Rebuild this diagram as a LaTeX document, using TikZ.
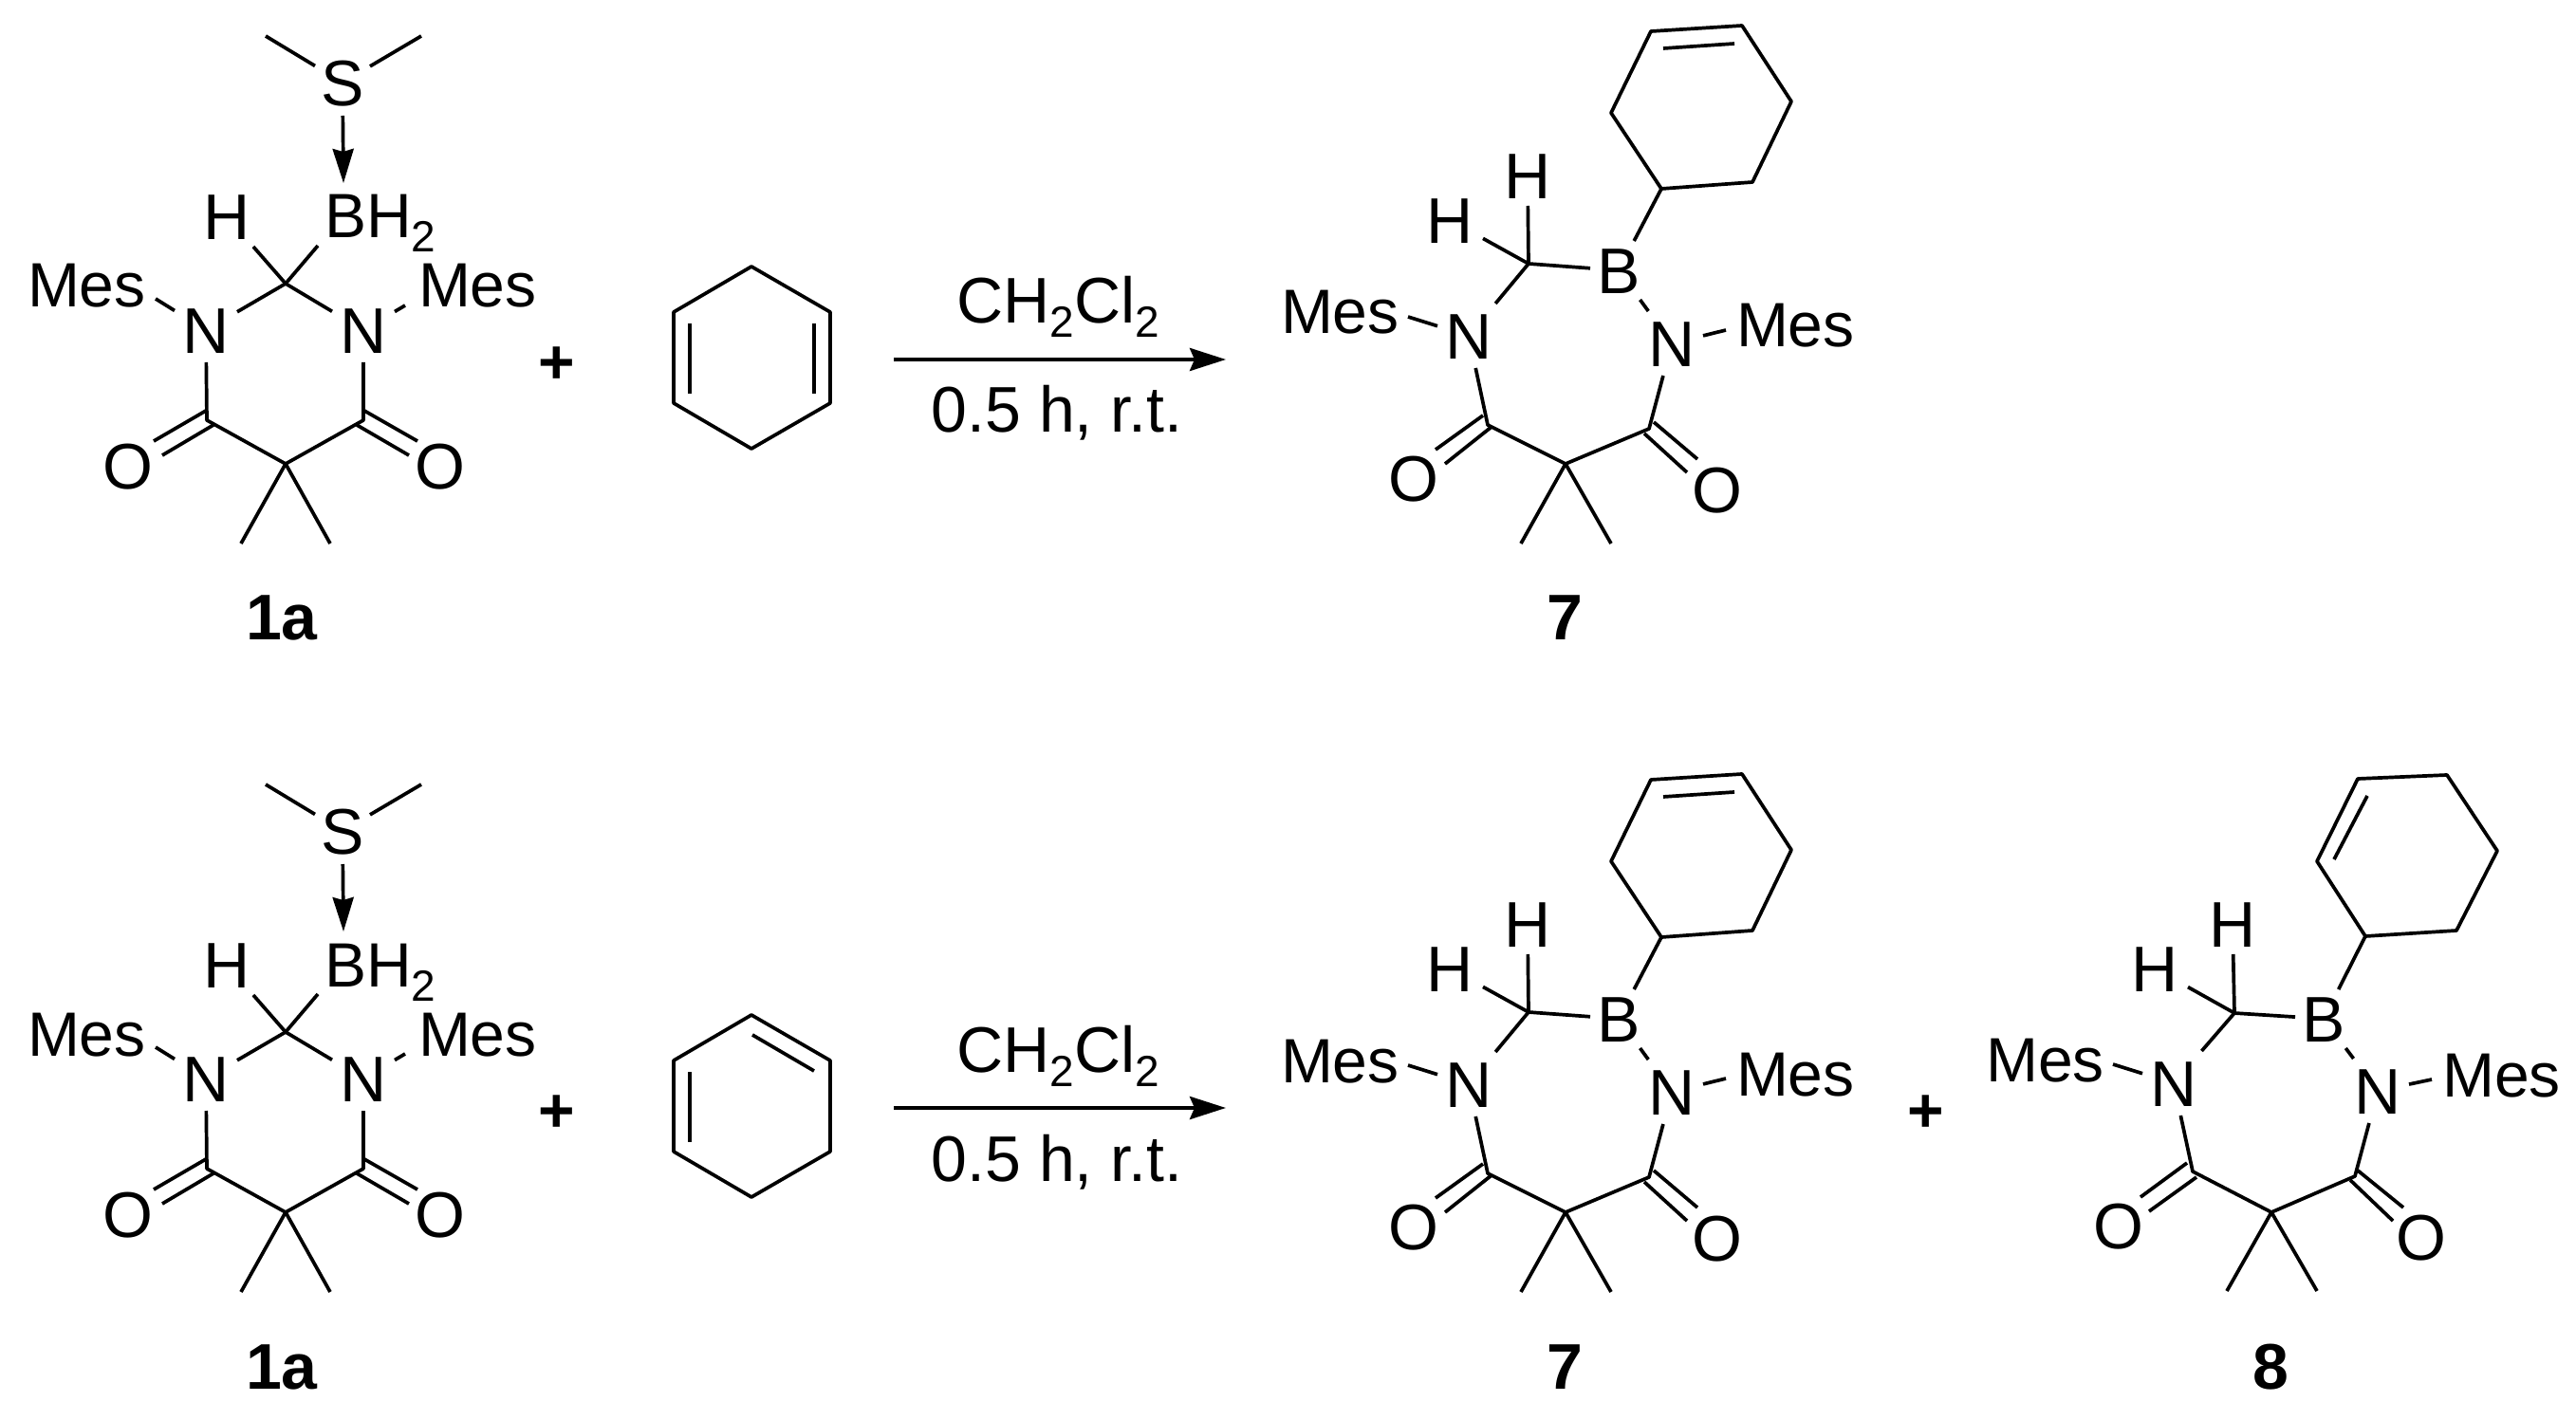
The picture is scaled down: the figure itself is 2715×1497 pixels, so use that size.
\documentclass[tikz,border=0pt]{standalone}
\usepackage{fontspec}
\setmainfont{Liberation Sans}
\usetikzlibrary{arrows.meta}
\newcommand{\subtwo}{\raisebox{-7.5pt}{\fontsize{23}{23}\selectfont 2}}
\tikzset{
  bond/.style={line width=1.85pt,line join=round,line cap=butt,black},
  atomlabel/.style={inner sep=0pt,outer sep=0pt,font=\fontsize{34}{34}\selectfont,text height=24.4pt,text depth=0pt,minimum width=33pt,minimum height=34pt,anchor=center},
  sulfur/.style={atomlabel,minimum width=29pt,minimum height=35pt},
  hydrogen/.style={atomlabel,minimum width=35pt,minimum height=32pt},
  boron/.style={atomlabel,minimum width=30pt,minimum height=31pt},
  grouplabel/.style={inner sep=0pt,outer sep=0pt,font=\fontsize{33}{33}\selectfont,anchor=base west},
  condlabel/.style={inner sep=0pt,outer sep=0pt,font=\fontsize{34}{34}\selectfont,anchor=base},
  idlabel/.style={inner sep=0pt,outer sep=0pt,font=\fontsize{34}{34}\selectfont\bfseries,anchor=base},
  pluslabel/.style={inner sep=0pt,outer sep=0pt,font=\fontsize{33}{33}\selectfont\bfseries,anchor=center},
  dative/.style={bond,-{Stealth[length=18pt,width=11pt,inset=1.5pt]}},
  rxnarrow/.style={line width=2.1pt,black,-{Stealth[length=19pt,width=12pt,inset=2.5pt]}},
}
% reagent 1a, plus sign, conditions and arrow
\newcommand{\reagentA}{%
  \node[sulfur] (S) at (361,876) {S};
  \coordinate (Me1) at (280,827);
  \coordinate (Me2) at (444,827);
  \draw[bond] (Me1) -- (S);
  \draw[bond] (Me2) -- (S);
  \coordinate (bhtop) at (362,982);
  \coordinate (bhend) at (335,1048);
  \draw[dative] (S) -- (bhtop);
  \node[grouplabel] (BH) at (342,1040) {BH\subtwo};
  \node[hydrogen] (H) at (239,1017) {H};
  \coordinate (C1) at (301,1088);
  \draw[bond] (C1) -- (H);
  \draw[bond] (C1) -- (bhend);
  \node[atomlabel] (N1) at (217,1137) {N};
  \node[atomlabel] (N2) at (383,1137) {N};
  \draw[bond] (C1) -- (N1);
  \draw[bond] (C1) -- (N2);
  \node[grouplabel] (Mes1) at (29,1113) {Mes};
  \node[grouplabel] (Mes2) at (441,1113) {Mes};
  \coordinate (m1) at (164,1104);
  \coordinate (m2) at (427,1111);
  \draw[bond] (m1) -- (N1);
  \draw[bond] (m2) -- (N2);
  \coordinate (C2) at (218,1232);
  \coordinate (C3) at (383,1232);
  \coordinate (Q) at (301,1278);
  \draw[bond] (N1) -- (C2) -- (Q) -- (C3) -- (N2);
  \coordinate (Me3) at (254,1362);
  \coordinate (Me4) at (348,1362);
  \draw[bond] (Q) -- (Me3);
  \draw[bond] (Q) -- (Me4);
  \coordinate (a1) at (217,1222); \coordinate (a2) at (162,1254);
  \coordinate (b1) at (225,1237); \coordinate (b2) at (171,1269);
  \coordinate (c1) at (384,1222); \coordinate (c2) at (440,1254);
  \coordinate (d1) at (376,1237); \coordinate (d2) at (431,1269);
  \draw[bond] (a1) -- (a2);
  \draw[bond] (b1) -- (b2);
  \draw[bond] (c1) -- (c2);
  \draw[bond] (d1) -- (d2);
  \node[atomlabel] (O1) at (135,1280) {O};
  \node[atomlabel] (O2) at (464,1280) {O};
  \node[idlabel] (L) at (297,1464) {1a};
  \node[pluslabel] (P) at (587,1174) {+};
  \node[condlabel] (cond1) at (1115,1130) {CH\subtwo Cl\subtwo};
  \node[condlabel] (cond2) at (1114,1245) {0.5 h, r.t.};
  \coordinate (arrS) at (942,1168);
  \coordinate (arrE) at (1292,1168);
  \draw[rxnarrow] (arrS) -- (arrE);
}
% product 7
\newcommand{\productSeven}{%
  \coordinate (r1) at (1740,822);
  \coordinate (r2) at (1836,816);
  \coordinate (r3) at (1888,896);
  \coordinate (r4) at (1847,981);
  \coordinate (r5) at (1751,988);
  \coordinate (r6) at (1698,908);
  \draw[bond] (r1) -- (r2) -- (r3) -- (r4) -- (r5) -- (r6) -- cycle;
  \coordinate (i1) at (1753,840);
  \coordinate (i2) at (1828,835);
  \draw[bond] (i1) -- (i2);
  \node[boron] (B) at (1706,1074) {B};
  \draw[bond] (r5) -- (B);
  \coordinate (C1) at (1611,1067);
  \draw[bond] (C1) -- (B);
  \node[hydrogen] (H1) at (1610,974) {H};
  \node[hydrogen] (H2) at (1528,1021) {H};
  \draw[bond] (C1) -- (H1);
  \draw[bond] (C1) -- (H2);
  \node[atomlabel] (N1) at (1548,1143) {N};
  \node[atomlabel] (N2) at (1762,1151) {N};
  \draw[bond] (C1) -- (N1);
  \draw[bond] (B) -- (N2);
  \node[grouplabel] (Mes1) at (1350,1141) {Mes};
  \node[grouplabel] (Mes2) at (1830,1155) {Mes};
  \coordinate (m1) at (1484,1123);
  \coordinate (m2) at (1819,1137);
  \draw[bond] (m1) -- (N1);
  \draw[bond] (m2) -- (N2);
  \coordinate (C2) at (1568,1237);
  \coordinate (C3) at (1738,1241);
  \coordinate (Q) at (1650,1278);
  \draw[bond] (N1) -- (C2) -- (Q) -- (C3) -- (N2);
  \coordinate (Me3) at (1603,1362);
  \coordinate (Me4) at (1698,1362);
  \draw[bond] (Q) -- (Me3);
  \draw[bond] (Q) -- (Me4);
  \coordinate (a1) at (1563,1227); \coordinate (a2) at (1513,1263);
  \coordinate (b1) at (1572,1239); \coordinate (b2) at (1523,1278);
  \coordinate (c1) at (1743,1234); \coordinate (c2) at (1789,1273);
  \coordinate (d1) at (1733,1246); \coordinate (d2) at (1778,1287);
  \draw[bond] (a1) -- (a2);
  \draw[bond] (b1) -- (b2);
  \draw[bond] (c1) -- (c2);
  \draw[bond] (d1) -- (d2);
  \node[atomlabel] (O1) at (1490,1293) {O};
  \node[atomlabel] (O2) at (1810,1305) {O};
  \node[idlabel] (L) at (1649,1464) {7};
}
\begin{document}
\begin{tikzpicture}[x=0.5pt,y=-0.5pt]
\useasboundingbox (0,0) rectangle (2715,1497);
\fill[white] (0,0) rectangle (2715,1497);
% top row
\begin{scope}[shift={(0,-789)},name prefix=ta-]
  \reagentA
\end{scope}
\begin{scope}[shift={(0,-789)},name prefix=tp-]
  \productSeven
\end{scope}
% top diene (1,4-cyclohexadiene)
\coordinate (d1a) at (792,281);
\coordinate (d1b) at (875,329);
\coordinate (d1c) at (875,425);
\coordinate (d1d) at (792,473);
\coordinate (d1e) at (710,425);
\coordinate (d1f) at (710,329);
\draw[bond] (d1a) -- (d1b) -- (d1c) -- (d1d) -- (d1e) -- (d1f) -- cycle;
\coordinate (d1g) at (727,341);
\coordinate (d1h) at (727,415);
\coordinate (d1i) at (858,341);
\coordinate (d1j) at (858,415);
\draw[bond] (d1g) -- (d1h);
\draw[bond] (d1i) -- (d1j);
% bottom row
\begin{scope}[name prefix=ba-]
  \reagentA
\end{scope}
\begin{scope}[name prefix=bp-]
  \productSeven
\end{scope}
% bottom diene (1,3-cyclohexadiene)
\coordinate (d2a) at (792,1070);
\coordinate (d2b) at (875,1118);
\coordinate (d2c) at (875,1214);
\coordinate (d2d) at (792,1262);
\coordinate (d2e) at (710,1214);
\coordinate (d2f) at (710,1118);
\draw[bond] (d2a) -- (d2b) -- (d2c) -- (d2d) -- (d2e) -- (d2f) -- cycle;
\coordinate (d2g) at (727,1130);
\coordinate (d2h) at (727,1204);
\coordinate (d2i) at (793,1091);
\coordinate (d2j) at (858,1129);
\draw[bond] (d2g) -- (d2h);
\draw[bond] (d2i) -- (d2j);
% plus and product 8
\node[pluslabel] (plus8) at (2030,1174) {+};
\coordinate (e1) at (2485,821);
\coordinate (e2) at (2579,817);
\coordinate (e3) at (2632,897);
\coordinate (e4) at (2589,981);
\coordinate (e5) at (2493,987);
\coordinate (e6) at (2442,908);
\draw[bond] (e1) -- (e2) -- (e3) -- (e4) -- (e5) -- (e6) -- cycle;
\coordinate (e7) at (2495,839);
\coordinate (e8) at (2460,906);
\draw[bond] (e7) -- (e8);
\node[boron] (B8) at (2449,1074) {B};
\draw[bond] (e5) -- (B8);
\coordinate (C8) at (2355,1068);
\draw[bond] (C8) -- (B8);
\node[hydrogen] (H8a) at (2353,974) {H};
\node[hydrogen] (H8b) at (2271,1021) {H};
\draw[bond] (C8) -- (H8a);
\draw[bond] (C8) -- (H8b);
\node[atomlabel] (N8a) at (2291,1142) {N};
\node[atomlabel] (N8b) at (2506,1150) {N};
\draw[bond] (C8) -- (N8a);
\draw[bond] (B8) -- (N8b);
\node[grouplabel] (Mes8a) at (2093,1140) {Mes};
\node[grouplabel] (Mes8b) at (2574,1156) {Mes};
\coordinate (m8a) at (2227,1122);
\coordinate (m8b) at (2563,1138);
\draw[bond] (m8a) -- (N8a);
\draw[bond] (m8b) -- (N8b);
\coordinate (C8b) at (2311,1235);
\coordinate (C8c) at (2482,1240);
\coordinate (Q8) at (2394,1278);
\draw[bond] (N8a) -- (C8b) -- (Q8) -- (C8c) -- (N8b);
\coordinate (Me8a) at (2347,1361);
\coordinate (Me8b) at (2442,1361);
\draw[bond] (Q8) -- (Me8a);
\draw[bond] (Q8) -- (Me8b);
\coordinate (f1) at (2305,1226); \coordinate (f2) at (2256,1262);
\coordinate (f3) at (2315,1241); \coordinate (f4) at (2265,1277);
\coordinate (f5) at (2485,1234); \coordinate (f6) at (2533,1273);
\coordinate (f7) at (2477,1244); \coordinate (f8) at (2522,1287);
\draw[bond] (f1) -- (f2);
\draw[bond] (f3) -- (f4);
\draw[bond] (f5) -- (f6);
\draw[bond] (f7) -- (f8);
\node[atomlabel] (O8a) at (2233,1292) {O};
\node[atomlabel] (O8b) at (2552,1304) {O};
\node[idlabel] (L8) at (2393,1464) {8};
\end{tikzpicture}
\end{document}
